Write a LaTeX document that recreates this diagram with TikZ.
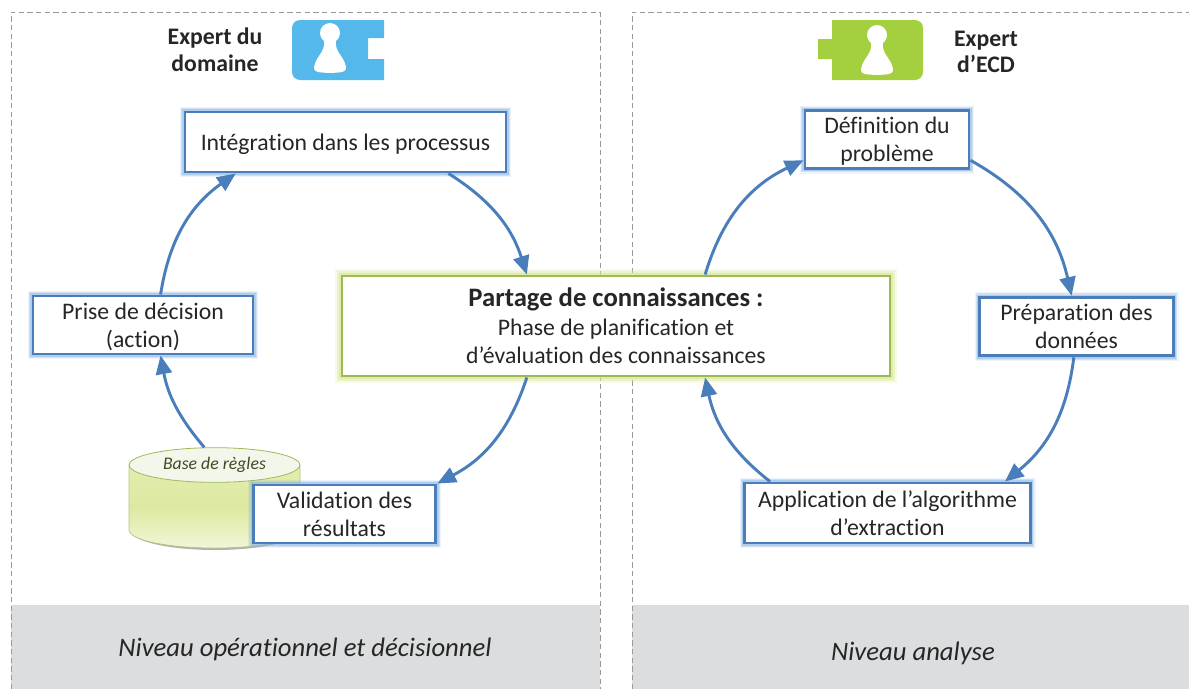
\documentclass[tikz,border=0pt]{standalone}
\usepackage{fontspec}
\setmainfont[RawFeature={-liga;-clig;-calt;-dlig}]{Carlito}
\usetikzlibrary{arrows.meta, shapes.geometric}

\definecolor{flowblue}{HTML}{4A7EBB}
\definecolor{glowblue}{HTML}{8DB3E2}
\definecolor{boxgreen}{HTML}{9BBB59}
\definecolor{glowgreen}{HTML}{D7E58F}
\definecolor{bandgray}{HTML}{DCDDDE}
\definecolor{dashgray}{HTML}{999999}
\definecolor{iconblue}{HTML}{55B8EA}
\definecolor{icongreen}{HTML}{A4CF3E}
\definecolor{txtdark}{HTML}{262626}

\tikzset{
  panel/.style={dashgray, line width=0.6pt, dash pattern=on 4pt off 2.5pt},
  band/.style={fill=bandgray, draw=none},
  bandtext/.style={font=\fontsize{20}{24}\selectfont\itshape, text=txtdark},
  expert/.style={font=\fontsize{17.8}{20}\selectfont\bfseries, align=center, text=txtdark},
  stepbox/.style={draw=flowblue, fill=white, line width=2.2pt, inner sep=0pt, align=center,
    text=txtdark, text depth=0pt, font=\fontsize{17.8}{21}\selectfont,
    preaction={draw=glowblue, draw opacity=.15, line width=8pt},
    preaction={draw=glowblue, draw opacity=.3, line width=6pt},
    preaction={draw=glowblue, draw opacity=.45, line width=4pt}},
  mainbox/.style={draw=boxgreen, fill=white, line width=2.2pt, inner sep=0pt, align=center,
    text=txtdark, font=\fontsize{17.8}{21.5}\selectfont,
    preaction={draw=glowgreen, draw opacity=.2, line width=11pt},
    preaction={draw=glowgreen, draw opacity=.35, line width=8pt},
    preaction={draw=glowgreen, draw opacity=.5, line width=5pt}},
  flow/.style={->, flowblue, line width=2.2pt},
}

\newcommand{\drawpawn}[2]{%
  \fill[white, shift={(#1,#2)}] (0,0) circle (10);
  \fill[white, shift={(#1,#2)}]
    (-6,6) .. controls (-5,14) and (-7,17) .. (-11,23)
    .. controls (-14,27) and (-16,32) .. (-16,35)
    .. controls (-16,39) and (-12,39.5) .. (0,40)
    .. controls (12,39.5) and (16,39) .. (16,35)
    .. controls (16,32) and (14,27) .. (11,23)
    .. controls (7,17) and (5,14) .. (6,6) -- cycle;
}

\begin{document}
\begin{tikzpicture}[x=0.75pt, y=-0.75pt, >={Triangle[length=14pt, width=12pt]}]
  \useasboundingbox (0,0) rectangle (1189,689);

  \fill[band] (11,605) rectangle (600,689);
  \fill[band] (632,605) rectangle (1189,689);
  \draw[panel] (11,689) -- (11,12) -- (600,12) -- (600,689);
  \draw[panel] (632,689) -- (632,12) -- (1189,12);

  \node[bandtext] (niveauop) at (305,649) {Niveau opérationnel et décisionnel};
  \node[bandtext] (niveauan) at (913,653) {Niveau analyse};

  % icons
  \fill[iconblue] (384,20) [rounded corners=6pt] -- (292,20) -- (292,80) [sharp corners] -- (384,80)
    -- (384,59) -- (368,59) -- (368,38) -- (384,38) -- cycle;
  \drawpawn{330}{33}
  \fill[icongreen] (832,20) [rounded corners=6pt] -- (923,20) -- (923,80) [sharp corners] -- (832,80)
    -- (832,59) -- (818,59) -- (818,39) -- (832,39) -- cycle;
  \drawpawn{877}{35}

  \node[expert] (expertdom) at (215,50) {Expert du\\domaine};
  \node[expert] (expertecd) at (986,52) {Expert\\d’ECD};

  % base de regles
  \fill[black!30] (130,530) arc (180:360:85 and -20) -- cycle;
  \shade[top color=glowgreen!70!white, bottom color=glowgreen!35!white, middle color=glowgreen!85!white,
    draw=boxgreen!80!white, line width=0.5pt]
    (129,465) -- (129,530) arc (180:360:85.5 and -18) -- (300,465) -- cycle;
  \node[ellipse, draw=boxgreen, fill=boxgreen!12!white, line width=0.6pt, inner sep=0pt,
    minimum width=128pt, minimum height=26pt, text=boxgreen!40!black,
    font=\fontsize{13.3}{15}\selectfont\itshape] (base) at (214.5,465) {Base de règles};

  \node[stepbox, minimum width=240.75pt, minimum height=45pt] (proc) at (345.5,142) {Intégration dans les processus};
  \node[stepbox, minimum width=165pt, minimum height=43.5pt] (decis) at (143,325) {Prise de décision\\(action)};
  \node[stepbox, minimum width=137pt, minimum height=43.5pt] (valid) at (344.5,514) {Validation des\\résultats};
  \node[stepbox, minimum width=123pt, minimum height=43pt] (defin) at (887,139.5) {Définition du\\problème};
  \node[stepbox, minimum width=145pt, minimum height=44pt] (prepa) at (1076.5,326.5) {Préparation des\\données};
  \node[stepbox, minimum width=214pt, minimum height=45pt] (appli) at (887.5,513) {Application de l’algorithme\\d’extraction};
  \node[mainbox, minimum width=411pt, minimum height=75pt] (partage) at (616,326)
    {{\fontsize{20}{21.5}\selectfont\bfseries Partage de connaissances :}\\Phase de planification et\\d’évaluation des connaissances};

  \path[flow]
    (proc.-17) edge [bend left=20] (partage.150)
    (partage.210) edge [bend left=22] (valid.north east)
    (base.120) edge [bend left=15] (decis.-60)
    (decis.60) edge [bend left=23] (proc.196)
    (partage.30) edge [bend left=24] (defin.194)
    (defin.-14) edge [bend left=24] (prepa.99)
    (prepa.-95) edge [bend left=22] (appli.15)
    (appli.165) edge [bend left=20] (partage.-30);
\end{tikzpicture}
\end{document}
